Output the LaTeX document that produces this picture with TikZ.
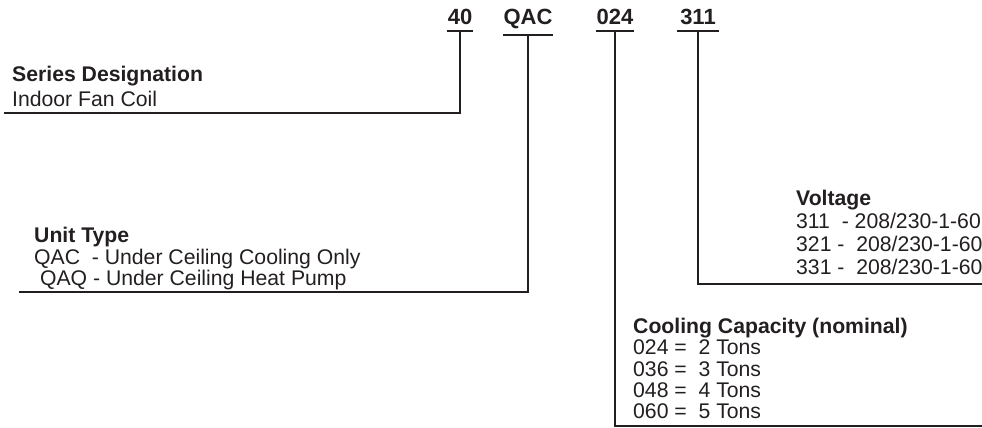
\documentclass[tikz,border=0pt]{standalone}
\usepackage{fontspec}
\setmainfont{Liberation Sans}
\usepackage{xcolor}
\usetikzlibrary{positioning}

\definecolor{ink}{HTML}{231F20}

\begin{document}
\begin{tikzpicture}[
  x=1pt, y=-1pt,
  every node/.style={text=ink},
  code/.style={font=\bfseries\fontsize{22}{22}\selectfont, anchor=base,
    inner xsep=0pt, inner ysep=5.5pt},
  legend/.style={align=left, anchor=south west, text depth=0pt, inner xsep=0pt},
  leader/.style={draw=ink, line width=1.6pt}
]
\useasboundingbox (0,0) rectangle (982,428);

% model number
\node[code, minimum width=26] (c40)  at (460,25) {40};
\node[code, minimum width=43] (cqac) at (528,25) {QAC};
\node[code, minimum width=38] (c024) at (615,25) {024};
\node[code, minimum width=42] (c311) at (698,25) {311};

\foreach \c in {c40,cqac,c024,c311}
  \draw[leader] (\c.south west) -- (\c.south east);

% ends of the leaders
\coordinate (sdend)  at (4,113);
\coordinate (utend)  at (19,292);
\coordinate (vend)   at (982,284);
\coordinate (ccend)  at (982,426);

% legends
\node[legend, inner ysep=6pt, font=\fontsize{21.2}{25}\selectfont] (series) at (12,113)
  {\textbf{Series Designation}\\Indoor Fan Coil};
\node[legend, inner ysep=6pt, font=\fontsize{21.2}{21.5}\selectfont] (unit) at (34,292)
  {\textbf{Unit Type}\\QAC\ \ - Under Ceiling Cooling Only\\\ QAQ - Under Ceiling Heat Pump};
\node[legend, inner ysep=9pt, font=\fontsize{21.2}{23}\selectfont] (volt) at (796,284)
  {\textbf{Voltage}\\311\ \ - 208/230-1-60\\321 -\ \ 208/230-1-60\\331 -\ \ 208/230-1-60};
\node[legend, inner ysep=7pt, font=\fontsize{21.2}{21.3}\selectfont] (cap) at (633,426)
  {\textbf{Cooling Capacity (nominal)}\\024 =\ \ 2 Tons\\036 =\ \ 3 Tons\\048 =\ \ 4 Tons\\060 =\ \ 5 Tons};

\draw[leader] (c40.south)  |- (sdend);
\draw[leader] (cqac.south) |- (utend);
\draw[leader] (c311.south) |- (vend);
\draw[leader] (c024.south) |- (ccend);

\end{tikzpicture}
\end{document}
